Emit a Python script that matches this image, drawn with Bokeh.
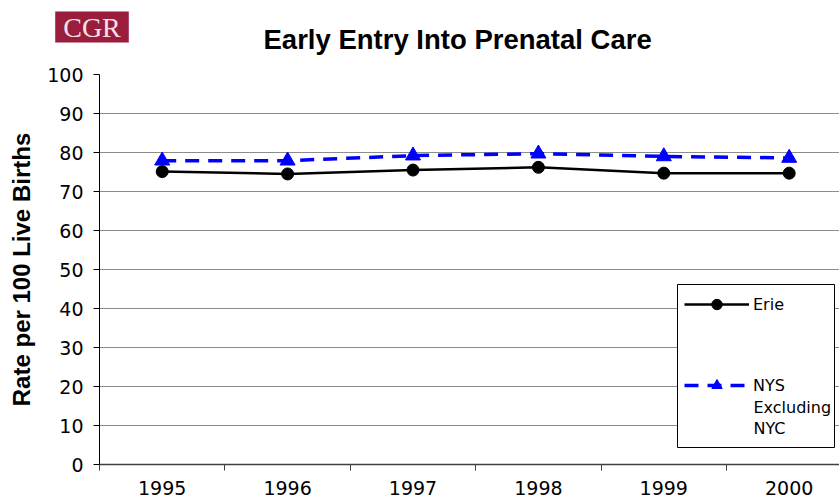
from bokeh.plotting import figure
from bokeh.models import (Range1d, FixedTicker, Legend, LegendItem, Label,
                          BoxAnnotation)
from bokeh.layouts import column, row
from bokeh.embed import file_html
from bokeh.resources import INLINE

# ---- data ----
years = [1995, 1996, 1997, 1998, 1999, 2000]
year_labels = ["1995", "1996", "1997", "1998", "1999", "2000"]
erie = [75.1, 74.5, 75.5, 76.2, 74.7, 74.7]
nys_excl_nyc = [77.9, 77.9, 79.2, 79.7, 79.0, 78.6]
y_ticks = [0, 10, 20, 30, 40, 50, 60, 70, 80, 90, 100]
title_text = "Early Entry Into Prenatal Care"
y_label = "Rate per 100 Live Births"
erie_name = "Erie"
nys_name_lines = ["NYS", "Excluding", "NYC"]
logo_text = "CGR"

TICK_FONT = "DejaVu Sans"
BOLD_FONT = "Liberation Sans"

W = 839
HEAD_H = 62
MAIN_H = 503 - HEAD_H
frame_left, frame_top, frame_bottom_border = 99, 12, 39
frame_w = W - frame_left
cat_px = 125.4

# ---- header (logo + title) ----
head = figure(width=W, height=HEAD_H, output_backend="svg", toolbar_location=None,
              x_range=Range1d(0, 1), y_range=Range1d(0, 1),
              x_axis_type=None, y_axis_type=None,
              min_border=0, min_border_left=0, min_border_right=0,
              min_border_top=0, min_border_bottom=0)
head.outline_line_color = None
head.background_fill_color = "white"
head.border_fill_color = "white"
head.add_layout(Label(x=91.5, y=HEAD_H - 26.5, x_units="screen", y_units="screen",
                      text=logo_text, text_font="Liberation Serif",
                      text_font_size="28px", text_color="#f3e3e7",
                      text_align="center", text_baseline="middle",
                      background_fill_color="#9b1d3d", padding=(8, 0)))
head.add_layout(Label(x=263, y=HEAD_H - 38.5, x_units="screen", y_units="screen",
                      text=title_text, text_font=BOLD_FONT,
                      text_font_style="bold", text_font_size="27.5px",
                      text_color="black", text_align="left",
                      text_baseline="middle"))

# ---- main chart ----
p = figure(width=W, height=MAIN_H, output_backend="svg", toolbar_location=None,
           x_range=Range1d(years[0] - 0.5, years[0] - 0.5 + frame_w / cat_px),
           y_range=Range1d(0, 100),
           min_border_left=frame_left, min_border_right=0,
           min_border_top=frame_top, min_border_bottom=frame_bottom_border)
p.outline_line_color = None
p.background_fill_color = "white"
p.border_fill_color = "white"

# x axis
boundaries = [y - 0.5 for y in years] + [years[-1] + 0.5]
p.xaxis.ticker = FixedTicker(ticks=years, minor_ticks=boundaries)
p.xaxis.major_label_overrides = {y: l for y, l in zip(years, year_labels)}
p.xaxis.major_tick_out = 0
p.xaxis.major_tick_in = 0
p.xaxis.minor_tick_out = 6
p.xaxis.minor_tick_in = 0
p.xaxis.minor_tick_line_color = "#404040"
p.xaxis.axis_line_color = "#404040"
p.xaxis.axis_line_width = 1.5
p.xaxis.major_label_text_font = TICK_FONT
p.xaxis.major_label_text_font_size = "19px"
p.xaxis.major_label_text_color = "black"
p.xaxis.major_label_standoff = 10
p.xgrid.visible = False

# y axis
p.yaxis.ticker = FixedTicker(ticks=y_ticks)
p.yaxis.major_tick_out = 6
p.yaxis.major_tick_in = 0
p.yaxis.minor_tick_line_color = None
p.yaxis.axis_line_color = "black"
p.yaxis.major_tick_line_color = "black"
p.yaxis.major_label_text_font = TICK_FONT
p.yaxis.major_label_text_font_size = "19px"
p.yaxis.major_label_text_color = "black"
p.yaxis.major_label_standoff = 10
p.yaxis.axis_label = y_label
p.yaxis.axis_label_text_font = BOLD_FONT
p.yaxis.axis_label_text_font_style = "bold"
p.yaxis.axis_label_text_font_size = "24px"
p.yaxis.axis_label_text_color = "black"
p.yaxis.axis_label_standoff = 9
p.ygrid.grid_line_color = "#8c8c8c"
p.ygrid.grid_line_width = 1

# series
l1 = p.line(years, erie, line_color="black", line_width=2.5)
m1 = p.scatter(years, erie, marker="circle", size=12, fill_color="black",
               line_color="black")
l2 = p.line(years, nys_excl_nyc, line_color="#0000FF", line_width=3.5,
            line_dash="14 9")
m2 = p.scatter(years, nys_excl_nyc, marker="triangle", size=15,
               fill_color="#0000FF", line_color="#0000FF")

# legend box (screen units, relative to the frame's bottom-left corner)
box = BoxAnnotation(left=578, right=735, bottom=17, top=180,
                    left_units="screen", right_units="screen",
                    top_units="screen", bottom_units="screen",
                    fill_color="white", fill_alpha=1,
                    line_color="black", line_width=1, line_alpha=1)
p.add_layout(box)

legend = Legend(items=[LegendItem(label=erie_name, renderers=[l1, m1]),
                       LegendItem(label=nys_name_lines[0], renderers=[l2, m2])],
                location=(585, 66))
legend.border_line_color = None
legend.background_fill_alpha = 0
legend.label_text_font = TICK_FONT
legend.label_text_font_size = "16px"
legend.label_text_color = "black"
legend.glyph_width = 65
legend.glyph_height = 26
legend.label_height = 26
legend.label_standoff = 4
legend.padding = 7
legend.spacing = 55
legend.margin = 0
p.add_layout(legend, "center")

for txt, yy in zip(nys_name_lines[1:], [57, 36]):
    p.add_layout(Label(x=654, y=yy, x_units="screen", y_units="screen",
                       text=txt, text_font=TICK_FONT, text_font_size="16px",
                       text_color="black", text_align="left",
                       text_baseline="middle"))

layout = column(row(head, spacing=0), p, spacing=0)
open("out.html", "w").write(file_html(layout, INLINE))
